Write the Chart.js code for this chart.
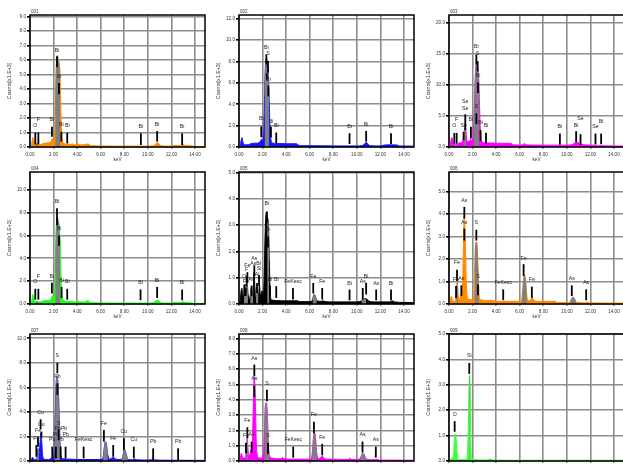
<!DOCTYPE html>
<html><head><meta charset="utf-8">
<script src="https://cdn.jsdelivr.net/npm/chart.js@4"></script>
<style>
html,body{margin:0;padding:0;background:#fff;overflow:hidden;width:623px;height:464px;position:relative;}
canvas{position:absolute;}
</style></head><body>
<script>
// ---------------- DATA ----------------
const panelIds = ['001','002','003','004','005','006','007','008','009'];
const yMax  = [9.1, 12.35, 21.3, 11.55, 5.02, 5.87, 10.35, 8.3, 5.0];
const yStep = [1, 2, 5, 2, 1, 1, 2, 1, 1];
const xMax = 14.85, xStep = 2;

const spec001 = [[0,0],[0.1,0.05],[0.18,0.4],[0.25,0.65],[0.32,0.45],[0.4,0.15],[0.5,0.2],[0.6,0.22],[0.7,0.18],[0.8,0.15],[1.0,0.2],[1.2,0.25],[1.4,0.28],[1.6,0.3],[1.75,0.35],[1.85,0.5],[1.92,0.58],[2.0,0.45],[2.08,0.8],[2.14,2.2],[2.2,4.8],[2.26,6.0],[2.32,6.3],[2.38,6.1],[2.44,5.9],[2.5,5.6],[2.56,4.6],[2.62,2.6],[2.68,1.1],[2.75,0.45],[2.82,0.3],[3.0,0.22],[3.2,0.2],[3.5,0.18],[3.6,0.22],[3.7,0.15],[4.0,0.15],[4.1,0.2],[4.3,0.15],[4.6,0.15],[4.8,0.2],[5.0,0.2],[5.1,0.1],[5.5,0.08],[6.0,0.07],[7,0.06],[8,0.06],[9,0.06],[10,0.06],[10.5,0.08],[10.7,0.25],[10.8,0.3],[10.9,0.25],[11.1,0.08],[11.5,0.06],[12,0.06],[12.3,0.12],[12.5,0.1],[12.9,0.12],[13.0,0.18],[13.1,0.12],[13.5,0.08],[14,0.04],[14.85,0.03]];
const spec002 = [[0,0],[0.1,0.1],[0.18,0.6],[0.25,0.88],[0.33,0.5],[0.42,0.2],[0.6,0.2],[0.8,0.22],[1.0,0.3],[1.2,0.35],[1.5,0.36],[1.7,0.4],[1.82,0.55],[1.9,0.72],[1.97,0.55],[2.05,0.7],[2.11,1.8],[2.17,4.8],[2.24,7.6],[2.31,8.3],[2.38,8.1],[2.44,7.4],[2.5,6.4],[2.56,4.4],[2.62,2.2],[2.68,1.0],[2.75,0.5],[2.82,0.38],[3.2,0.33],[3.6,0.32],[4.0,0.3],[4.5,0.3],[4.9,0.3],[5.0,0.2],[5.2,0.12],[6,0.12],[7,0.11],[8,0.1],[9,0.1],[10,0.1],[10.5,0.15],[10.7,0.35],[10.8,0.42],[10.9,0.35],[11.1,0.12],[12,0.1],[12.3,0.18],[13.0,0.2],[13.4,0.18],[13.6,0.1],[14.85,0.08]];
const spec003 = [[0,0],[0.1,0.2],[0.18,1.2],[0.25,1.52],[0.32,1.0],[0.4,0.4],[0.5,0.45],[0.6,0.5],[0.7,0.45],[0.8,0.6],[1.0,0.7],[1.15,0.9],[1.25,1.8],[1.33,3.0],[1.38,3.15],[1.44,2.6],[1.5,1.2],[1.6,0.9],[1.75,1.0],[1.86,1.25],[1.95,1.0],[2.03,1.3],[2.1,3.0],[2.17,7.5],[2.24,11.8],[2.31,13.3],[2.38,13.2],[2.45,12.6],[2.52,11.0],[2.58,7.5],[2.64,3.6],[2.7,1.6],[2.8,0.9],[3.0,0.7],[3.5,0.65],[4.0,0.62],[4.5,0.6],[5.0,0.6],[5.3,0.55],[5.4,0.35],[6.0,0.32],[6.3,0.35],[6.4,0.6],[6.5,0.35],[7,0.32],[8,0.3],[9,0.3],[10,0.3],[10.5,0.4],[10.7,0.75],[10.8,0.85],[10.95,0.7],[11.2,0.45],[11.5,0.35],[12,0.3],[12.5,0.3],[12.6,0.2],[13.5,0.18],[14,0.15],[14.85,0.15]];
const spec004 = [[0,0],[0.1,0.05],[0.18,0.5],[0.25,0.83],[0.32,0.55],[0.4,0.18],[0.5,0.22],[0.6,0.24],[0.7,0.2],[0.8,0.18],[1.0,0.22],[1.2,0.28],[1.4,0.3],[1.6,0.32],[1.75,0.38],[1.85,0.6],[1.92,0.74],[2.0,0.5],[2.08,0.9],[2.14,2.8],[2.2,5.8],[2.26,7.3],[2.32,7.6],[2.38,7.4],[2.44,7.1],[2.5,6.5],[2.56,5.2],[2.62,3.0],[2.68,1.2],[2.75,0.5],[2.82,0.35],[3.0,0.26],[3.2,0.24],[3.5,0.22],[3.6,0.26],[3.7,0.18],[4.0,0.18],[4.1,0.24],[4.3,0.18],[4.6,0.18],[4.8,0.25],[4.9,0.3],[5.0,0.24],[5.1,0.12],[5.5,0.1],[6.0,0.09],[7,0.08],[8,0.08],[9,0.08],[10,0.08],[10.5,0.1],[10.7,0.3],[10.8,0.36],[10.9,0.3],[11.1,0.1],[11.5,0.08],[12,0.08],[12.3,0.15],[12.5,0.12],[12.9,0.15],[13.0,0.22],[13.1,0.15],[13.5,0.1],[14,0.06],[14.85,0.05]];
const spec005 = [[0,0],[0.1,0.1],[0.18,0.5],[0.25,0.6],[0.32,0.3],[0.42,0.35],[0.5,0.75],[0.56,0.5],[0.63,0.45],[0.7,0.72],[0.76,0.4],[0.85,0.2],[0.95,0.3],[1.05,0.62],[1.12,0.3],[1.2,0.5],[1.28,1.2],[1.35,0.6],[1.42,0.3],[1.5,0.7],[1.56,0.35],[1.65,0.3],[1.74,0.72],[1.8,0.4],[1.88,0.35],[1.95,0.5],[2.05,0.3],[2.13,0.9],[2.2,2.4],[2.27,3.3],[2.33,3.5],[2.39,3.3],[2.45,3.25],[2.51,2.8],[2.57,1.7],[2.63,0.7],[2.7,0.2],[2.8,0.15],[3.2,0.13],[4.0,0.12],[5.0,0.12],[5.1,0.09],[6.0,0.09],[6.25,0.15],[6.35,0.35],[6.45,0.33],[6.6,0.12],[7.0,0.1],[7.1,0.12],[7.3,0.09],[8,0.08],[9,0.08],[10,0.08],[10.4,0.12],[10.55,0.18],[10.8,0.2],[11.0,0.12],[11.5,0.08],[12,0.08],[12.8,0.08],[13.0,0.12],[13.2,0.08],[14,0.06],[14.85,0.05]];
const spec006 = [[0,0],[0.1,0.1],[0.2,0.35],[0.28,0.2],[0.4,0.12],[0.55,0.15],[0.63,0.5],[0.7,1.0],[0.76,0.55],[0.85,0.2],[0.95,0.3],[1.05,0.45],[1.12,0.6],[1.18,1.5],[1.24,3.0],[1.28,3.9],[1.33,3.7],[1.4,2.5],[1.47,0.9],[1.55,0.3],[1.7,0.2],[1.9,0.2],[2.1,0.3],[2.18,1.4],[2.25,2.6],[2.32,2.75],[2.39,2.55],[2.46,1.6],[2.53,0.6],[2.6,0.25],[2.8,0.18],[3.2,0.15],[3.6,0.17],[4.0,0.12],[5.0,0.12],[6.0,0.12],[6.2,0.3],[6.32,1.0],[6.4,1.3],[6.48,1.1],[6.6,0.4],[6.75,0.15],[6.95,0.2],[7.05,0.28],[7.2,0.18],[7.5,0.12],[8,0.12],[9,0.12],[9.2,0.06],[10,0.06],[10.3,0.12],[10.5,0.3],[10.6,0.28],[10.8,0.08],[11.5,0.05],[11.7,0.08],[11.9,0.05],[14.85,0.04]];
const spec007 = [[0,0],[0.1,0.05],[0.2,0.3],[0.28,0.2],[0.4,0.1],[0.55,0.12],[0.63,0.5],[0.7,1.0],[0.76,0.6],[0.85,1.5],[0.93,2.3],[1.0,1.6],[1.07,0.5],[1.2,0.15],[1.5,0.12],[1.7,0.15],[1.85,0.25],[2.0,0.3],[2.07,1.0],[2.14,3.6],[2.21,6.2],[2.28,6.9],[2.35,6.6],[2.42,5.4],[2.49,3.2],[2.56,1.3],[2.63,0.45],[2.72,0.22],[2.8,0.18],[3.5,0.15],[4,0.12],[5,0.12],[6.0,0.12],[6.2,0.3],[6.32,1.2],[6.4,1.57],[6.48,1.4],[6.6,0.5],[6.75,0.15],[6.95,0.25],[7.05,0.33],[7.2,0.2],[7.5,0.12],[7.8,0.15],[7.95,0.7],[8.04,0.9],[8.15,0.6],[8.3,0.12],[8.7,0.1],[8.9,0.16],[9.05,0.1],[10,0.08],[10.5,0.1],[10.6,0.08],[12,0.06],[14.85,0.05]];
const spec008 = [[0,0],[0.1,0.1],[0.2,0.5],[0.28,0.3],[0.4,0.2],[0.55,0.25],[0.63,0.9],[0.7,1.5],[0.76,0.8],[0.85,0.35],[0.95,0.5],[1.05,0.8],[1.12,1.0],[1.18,2.5],[1.24,4.5],[1.28,5.5],[1.33,5.2],[1.4,3.5],[1.47,1.2],[1.55,0.4],[1.7,0.2],[1.9,0.2],[2.08,0.4],[2.15,1.8],[2.22,3.4],[2.29,3.8],[2.36,3.6],[2.43,2.5],[2.5,1.0],[2.58,0.35],[2.8,0.2],[3.2,0.15],[3.6,0.15],[3.7,0.25],[3.8,0.15],[4.5,0.12],[5,0.12],[6.0,0.12],[6.2,0.4],[6.32,1.5],[6.4,1.86],[6.48,1.6],[6.6,0.5],[6.75,0.15],[6.95,0.25],[7.05,0.33],[7.2,0.18],[7.5,0.12],[8,0.12],[9,0.1],[9.3,0.1],[9.4,0.2],[9.5,0.1],[10,0.1],[10.3,0.2],[10.5,0.5],[10.6,0.45],[10.8,0.12],[11.5,0.08],[11.7,0.1],[11.9,0.06],[14.85,0.05]];
const spec009 = [[0,0],[0.1,0.05],[0.2,0.1],[0.3,0.12],[0.4,0.3],[0.45,0.8],[0.5,1.06],[0.55,1.0],[0.6,0.9],[0.65,0.6],[0.72,0.1],[0.8,0.05],[1.0,0.05],[1.3,0.06],[1.5,0.08],[1.6,0.6],[1.68,2.5],[1.74,3.37],[1.8,2.5],[1.86,0.5],[1.95,0.1],[2.1,0.06],[3.0,0.04],[3.3,0.05],[3.5,0.08],[3.7,0.04],[5,0.03],[14.85,0.03]];

// energy ranges of the grey (identified) peak areas
const gray001 = [[0.5,0.7],[2.14,2.56]];
const gray002 = [[2.17,2.56]];
const gray003 = [[0.5,0.7],[1.25,1.44],[2.1,2.58]];
const gray004 = [[0.5,0.7],[2.14,2.56]];
const gray005 = [[0.42,0.76],[0.95,1.2],[1.42,1.65],[2.39,2.57],[6.25,6.6],[10.4,10.8]];
const gray006 = [[0.63,0.76],[2.18,2.53],[6.2,6.6],[10.3,10.8]];
const gray007 = [[0.55,0.76],[2.07,2.56],[6.2,6.6],[7.8,8.3]];
const gray008 = [[0.63,0.76],[2.15,2.58],[6.2,6.6],[10.3,10.8]];
const gray009 = [[1.74,1.8]];

// element line markers: [energy keV, low count, high count, label, label count]
const mark001 = [[0.45,0.18,1.0,'O',1.35],[0.71,0.18,1.0,'F',1.8],[1.86,0.7,1.4,'Bi',1.8],[2.29,5.5,6.25,'Bi',6.57],[2.46,3.64,4.42,'Bi',4.79],[2.66,0.37,1.05,'Bi',1.42],[3.16,0.25,0.98,'Bi',1.35],[9.41,0.14,0.94,'Bi',1.28],[10.79,0.37,1.1,'Bi',1.42],[12.91,0.14,0.94,'Bi',1.28]];
const mark002 = [[1.89,0.91,1.92,'Bi',2.48],[2.32,7.73,8.67,'Bi',9.17],[2.46,6.94,8.04,'S',8.6],[2.36,6.3,6.9,'S',7.5],[2.49,4.74,5.75,'Bi',6.19],[2.71,0.9,1.9,'Bi',2.25],[3.16,0.35,1.35,'Bi',1.9],[9.38,0.28,1.29,'Bi',1.76],[10.79,0.5,1.5,'Bi',1.95],[12.9,0.28,1.29,'Bi',1.76]];
const mark003 = [[0.45,0.54,2.28,'O',3.15],[0.65,0.54,2.28,'F',4.24],[1.24,1.09,2.45,'Se',3.3],[1.38,2.72,5.27,'Se',6.03],[1.38,5.27,5.27,'Se',7.12],[1.86,1.36,3.26,'Bi',4.24],[2.32,3.7,5.43,'S',6.25],[2.32,13.3,14.9,'Bi',15.9],[2.43,12.2,13.86,'S',14.8],[2.46,8.7,10.4,'Bi',11.3],[2.68,0.98,2.72,'Bi',3.7],[3.14,0.54,2.28,'Bi',3.15],[9.41,0.38,2.17,'Bi',3.0],[10.79,0.82,2.55,'Bi',3.3],[11.16,0.33,2.07,'Se',4.35],[12.43,0.43,2.17,'Se',3.0],[12.91,0.43,2.17,'Bi',3.8]];
const mark004 = [[0.45,0.38,1.33,'O',1.86],[0.71,0.38,1.33,'F',2.3],[1.86,0.92,1.86,'Bi',2.3],[2.29,6.9,8.37,'Bi',8.8],[2.46,5.1,6.0,'Bi',6.48],[2.68,0.53,1.5,'Bi',1.95],[3.16,0.38,1.33,'Bi',1.86],[9.38,0.33,1.27,'Bi',1.72],[10.79,0.53,1.5,'Bi',1.95],[12.91,0.33,1.27,'Bi',1.72]];
const mark005 = [[0.45,0.3,0.74,'O',1.0],[0.57,0.3,0.62,'Fe',0.8],[0.65,0.68,1.06,'F',1.25],[0.71,0.8,1.21,'Fe',1.42],[1.07,0.3,0.7,'As',0.87],[1.3,1.06,1.47,'As',1.68],[1.41,1.47,1.47,'AsBi',1.48],[1.53,0.42,0.8,'Al',1.06],[1.7,0.68,1.09,'Si',1.29],[2.37,3.1,3.52,'Bi',3.75],[2.46,2.15,2.57,'Bi',2.76],[2.63,0.3,0.7,'Bi',0.87],[3.16,0.23,0.68,'Bi',0.87],[4.58,0.17,0.61,'FeKesc',0.8],[6.3,0.4,0.8,'Fe',1.0],[7.06,0.17,0.61,'Fe',0.8],[9.38,0.14,0.55,'Bi',0.74],[10.5,0.17,0.61,'As',0.8],[10.79,0.36,0.8,'Bi',1.0],[11.64,0.14,0.55,'As',0.74],[12.9,0.14,0.55,'Bi',0.74]];
const mark006 = [[1.3,3.8,4.32,'As',4.55],[1.3,2.82,3.35,'As',3.57],[2.32,2.82,3.3,'S',3.57],[0.68,1.02,1.52,'Fe',1.77],[0.6,0.27,0.8,'Fe',1.02],[1.05,0.35,0.83,'As',1.07],[2.46,0.39,0.87,'S',1.14],[4.6,0.17,0.65,'FeKesc',0.87],[6.33,1.25,1.77,'Fe',1.97],[7.03,0.27,0.77,'Fe',1.02],[10.42,0.35,0.83,'As',1.07],[11.64,0.17,0.65,'As',0.87]];
const mark007 = [[2.32,7.15,8.0,'S',8.45],[2.32,5.38,6.33,'Pb',6.77],[0.9,2.58,3.4,'Cu',3.83],[0.97,1.9,2.4,'Cu',2.83],[0.68,1.17,1.98,'Fe',2.39],[0.54,0.35,1.3,'Fe',1.71],[2.43,1.71,2.58,'S',2.96],[2.62,2.55,2.55,'PbPb',2.55],[1.89,0.22,1.17,'Pb',1.66],[2.2,0.22,1.17,'Pb',2.07],[2.6,0.22,1.17,'Pb',1.66],[3.02,0.22,1.17,'Pb',2.01],[4.55,0.22,1.17,'FeKesc',1.66],[6.27,1.58,2.53,'Fe',2.93],[7.06,0.35,1.3,'Fe',1.71],[7.97,0.9,1.85,'Cu',2.26],[8.81,0.22,1.17,'Cu',1.66],[10.45,0.08,1.03,'Pb',1.44],[12.57,0.08,1.03,'Pb',1.44]];
const mark008 = [[1.3,5.54,6.3,'As',6.63],[1.3,4.18,4.92,'As',5.27],[2.37,3.9,4.66,'S',4.99],[0.71,1.49,2.21,'Fe',2.58],[0.59,0.5,1.2,'Fe',1.55],[1.07,0.55,1.27,'As',1.62],[2.46,0.46,1.2,'S',1.55],[4.6,0.22,0.94,'FeKesc',1.33],[6.36,1.82,2.56,'Fe',2.91],[7.06,0.37,1.12,'Fe',1.44],[10.48,0.55,1.27,'As',1.62],[11.61,0.22,0.94,'As',1.33]];
const mark009 = [[0.48,1.15,1.57,'O',1.78],[1.72,3.43,3.86,'Si',4.09]];

const spectra = [spec001,spec002,spec003,spec004,spec005,spec006,spec007,spec008,spec009];
const grays   = [gray001,gray002,gray003,gray004,gray005,gray006,gray007,gray008,gray009];
const marks   = [mark001,mark002,mark003,mark004,mark005,mark006,mark007,mark008,mark009];

// ---------------- STYLE / LAYOUT ----------------
const fillColors = ['#ff8a00','#1414ff','#ff00ff','#1aff1a','#000000','#ff8a00','#1414ff','#ff00ff','#3cff3c'];
const grayColor = '#808080';
const colLeft = [30, 239, 449];
const rowTop = [15, 172, 334];
const rowBottom = [147, 304, 461];
const plotW = 175, padTop = 12, yAxisW = 30, xAxisH = 17, padRight = 3;
const FONT = '"Liberation Sans", Arial, sans-serif';

const markerPlugin = {
  id: 'edsMarkers',
  afterDatasetsDraw(chart, args, opts) {
    const {ctx, scales: {x, y}} = chart;
    ctx.save();
    ctx.strokeStyle = '#000';
    ctx.lineWidth = 1.8;
    ctx.fillStyle = '#222';
    ctx.font = '5.2px ' + FONT;
    ctx.textAlign = 'center';
    ctx.textBaseline = 'alphabetic';
    for (const [e, lo, hi, lab, ly] of opts.list) {
      const px = x.getPixelForValue(e);
      if (hi > lo) {
        ctx.beginPath();
        ctx.moveTo(px, y.getPixelForValue(lo));
        ctx.lineTo(px, y.getPixelForValue(hi));
        ctx.stroke();
      }
      ctx.fillText(lab, px, y.getPixelForValue(ly));
    }
    ctx.restore();
  },
  afterDraw(chart, args, opts) {
    const {ctx, chartArea: a} = chart;
    ctx.save();
    ctx.strokeStyle = '#000';
    ctx.lineWidth = 1.5;
    ctx.strokeRect(a.left, a.top, a.right - a.left, a.bottom - a.top);
    ctx.fillStyle = '#333';
    ctx.font = '4.5px ' + FONT;
    ctx.textAlign = 'left';
    ctx.textBaseline = 'bottom';
    ctx.fillText(opts.title, a.left + 1, a.top - 1);
    ctx.restore();
  }
};

function keepMultiples(step) {
  return s => { s.ticks = s.ticks.filter(t => Math.abs(t.value / step - Math.round(t.value / step)) < 1e-6); };
}

for (let i = 0; i < 9; i++) {
  const r = Math.floor(i / 3), c = i % 3;
  const cv = document.createElement('canvas');
  const W = yAxisW + plotW + padRight;
  const H = padTop + (rowBottom[r] - rowTop[r]) + xAxisH;
  cv.width = W; cv.height = H;
  cv.style.left = (colLeft[c] - yAxisW) + 'px';
  cv.style.top = (rowTop[r] - padTop) + 'px';
  cv.style.width = W + 'px'; cv.style.height = H + 'px';
  document.body.appendChild(cv);

  const pts = spectra[i].map(([x, y]) => ({x, y}));
  const datasets = [{
    data: pts, borderColor: fillColors[i], backgroundColor: fillColors[i],
    borderWidth: 1, pointRadius: 0, fill: 'origin', order: 2,
    cubicInterpolationMode: 'monotone'
  }];
  for (const [a, b] of grays[i]) {
    datasets.push({
      data: pts.filter(p => p.x >= a - 1e-9 && p.x <= b + 1e-9),
      borderColor: grayColor, backgroundColor: grayColor, borderWidth: 0.5,
      pointRadius: 0, fill: 'origin', order: 1, cubicInterpolationMode: 'monotone'
    });
  }

  new Chart(cv, {
    type: 'line',
    data: { datasets },
    plugins: [markerPlugin],
    options: {
      responsive: false, animation: false, devicePixelRatio: 1,
      layout: { padding: { top: padTop, right: padRight, left: 0, bottom: 0 } },
      plugins: { legend: { display: false }, tooltip: { enabled: false },
                 edsMarkers: { list: marks[i], title: panelIds[i] } },
      scales: {
        x: {
          type: 'linear', min: 0, max: xMax,
          afterBuildTicks: keepMultiples(xStep),
          afterFit: s => { s.height = xAxisH; },
          ticks: { stepSize: xStep, includeBounds: false, autoSkip: false, maxRotation: 0, padding: 2.5,
                   color: '#333', font: { family: FONT, size: 4.6 },
                   callback: v => Number(v).toFixed(2) },
          grid: { color: '#8c8c8c', lineWidth: 1.6, tickLength: 2, tickColor: '#8c8c8c' },
          border: { display: false },
          title: { display: true, text: 'keV', color: '#333', padding: { top: 0, bottom: 1.3 },
                   font: { family: FONT, size: 4.6 } }
        },
        y: {
          min: 0, max: yMax[i],
          afterBuildTicks: keepMultiples(yStep[i]),
          afterFit: s => { s.width = yAxisW; },
          ticks: { stepSize: yStep[i], includeBounds: false, padding: 1, color: '#333', font: { family: FONT, size: 4.6 },
                   callback: v => Number(v).toFixed(1) },
          grid: { color: '#8c8c8c', lineWidth: 1.6, tickLength: 3, tickColor: '#000' },
          border: { display: false },
          title: { display: true, text: 'Counts[x1.E+3]', color: '#333', padding: { top: 6.5, bottom: 0 },
                   font: { family: FONT, size: 5.3 } }
        }
      }
    }
  });
}
</script>
</body></html>
